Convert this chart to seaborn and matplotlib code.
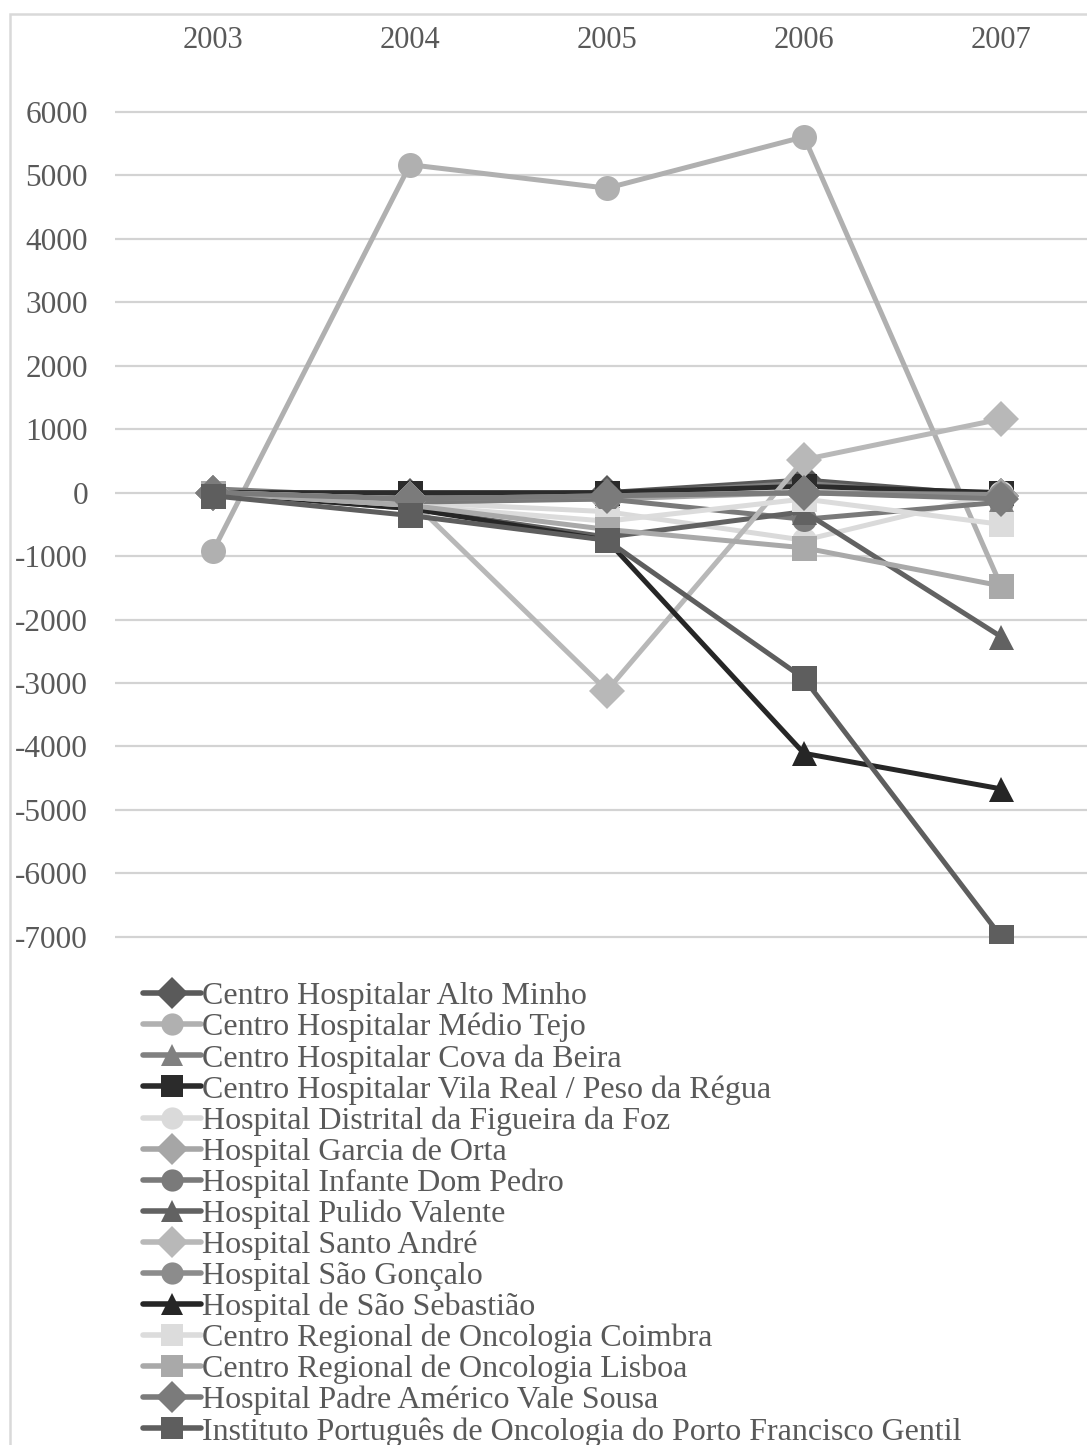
import numpy as np
import pandas as pd
import matplotlib
matplotlib.use("Agg")
import matplotlib.pyplot as plt
import seaborn as sns
from matplotlib.patches import Rectangle
from matplotlib.ticker import FuncFormatter

# Category axis
years = ["2003", "2004", "2005", "2006", "2007"]

# Series names (legend order)
hospitals = [
    "Centro Hospitalar Alto Minho",
    "Centro Hospitalar Médio Tejo",
    "Centro Hospitalar Cova da Beira",
    "Centro Hospitalar Vila Real / Peso da Régua",
    "Hospital Distrital da Figueira da Foz",
    "Hospital Garcia de Orta",
    "Hospital Infante Dom Pedro",
    "Hospital Pulido Valente",
    "Hospital Santo André",
    "Hospital São Gonçalo",
    "Hospital de São Sebastião",
    "Centro Regional de Oncologia Coimbra",
    "Centro Regional de Oncologia Lisboa",
    "Hospital Padre Américo Vale Sousa",
    "Instituto Português de Oncologia do Porto Francisco Gentil",
]

# Values per hospital, 2003-2007
alto_minho = [0, -50, 0, 200, -50]
medio_tejo = [-920, 5170, 4800, 5610, -1470]
cova_beira = [60, -80, -30, 150, -100]
vila_real = [0, 0, 0, 100, 0]
figueira_foz = [0, -150, -300, -750, 0]
garcia_orta = [0, -100, -100, 0, -50]
infante_dom_pedro = [0, -150, -100, -420, -150]
pulido_valente = [0, -250, -700, -300, -2270]
santo_andre = [0, -100, -3120, 520, 1160]
sao_goncalo = [0, -100, -50, 0, -30]
sao_sebastiao = [0, -250, -750, -4110, -4670]
onco_coimbra = [0, -200, -450, -100, -500]
onco_lisboa = [0, -200, -580, -870, -1470]
padre_americo = [0, -100, -50, 0, -100]
ipo_porto = [-50, -360, -750, -2930, -7000]

series = [alto_minho, medio_tejo, cova_beira, vila_real, figueira_foz,
          garcia_orta, infante_dom_pedro, pulido_valente, santo_andre,
          sao_goncalo, sao_sebastiao, onco_coimbra, onco_lisboa,
          padre_americo, ipo_porto]

colors = ["#5a5a5a", "#b0b0b0", "#808080", "#2b2b2b", "#dadada",
          "#a6a6a6", "#7a7a7a", "#626262", "#b8b8b8", "#8c8c8c",
          "#262626", "#dcdcdc", "#a9a9a9", "#7b7b7b", "#5e5e5e"]
marker_shapes = ["D", "o", "^", "s", "o", "D", "o", "^", "D", "o",
                 "^", "s", "s", "D", "s"]

rows = []
for name, vals in zip(hospitals, series):
    for i, v in enumerate(vals):
        rows.append({"hospital": name, "pos": i, "value": v})
df = pd.DataFrame(rows)

sns.set_style("white")
plt.rcParams["font.family"] = ["Liberation Serif", "DejaVu Serif"]
text_color = "#595959"

fig = plt.figure(figsize=(10.87, 14.45), dpi=100)
W, H = 1087, 1445
ax_left_px, ax_top_px, ax_bot_px = 114.5, 74, 943
ax = fig.add_axes([ax_left_px / W, 1 - ax_bot_px / H,
                   (W - ax_left_px) / W, (ax_bot_px - ax_top_px) / H])

palette = dict(zip(hospitals, colors))
markers = dict(zip(hospitals, marker_shapes))

sns.lineplot(data=df, x="pos", y="value", hue="hospital", style="hospital",
             hue_order=hospitals, style_order=hospitals, palette=palette,
             markers=markers, dashes=False, linewidth=3.6, markersize=18,
             markeredgewidth=0, ax=ax, legend=True)

ax.set_xlim(-0.5, -0.5 + (W - ax_left_px) / 197.0)
ax.set_ylim(-7100, 6600)
ax.set_yticks(np.arange(-7000, 6001, 1000))
ax.yaxis.set_major_formatter(FuncFormatter(lambda v, p: f"{int(round(v))}"))
ax.set_xticks(range(len(years)))
ax.set_xticklabels(years)
ax.xaxis.tick_top()
ax.set_xlabel("")
ax.set_ylabel("")
ax.tick_params(axis="x", length=0, pad=14, labelsize=22, colors=text_color)
ax.tick_params(axis="y", length=0, pad=19, labelsize=22.5, colors=text_color)
ax.yaxis.grid(True, color="#d3d3d3", linewidth=1.6)
ax.xaxis.grid(False)
for s in ax.spines.values():
    s.set_visible(False)

handles, labels = ax.get_legend_handles_labels()
ax.get_legend().remove()
leg = fig.legend(handles, labels, loc="upper left",
                 bbox_to_anchor=(143 / W, 1 - 982 / H),
                 bbox_transform=fig.transFigure, frameon=False,
                 fontsize=23, handlelength=1.8, handletextpad=0.05,
                 labelspacing=0.05, borderpad=0, borderaxespad=0)
for t in leg.get_texts():
    t.set_color(text_color)
for h in leg.legend_handles:
    h.set_linewidth(4.0)
    h.set_markersize(16)
    h.set_markeredgewidth(0)

# outer chart frame
fig.patches.append(Rectangle((9.5 / W, -0.1), 2.0, 1 - 13.5 / H + 0.1,
                             transform=fig.transFigure, fill=False,
                             edgecolor="#d9d9d9", linewidth=1.8))

fig.savefig("out.png", dpi=100, facecolor="white")
